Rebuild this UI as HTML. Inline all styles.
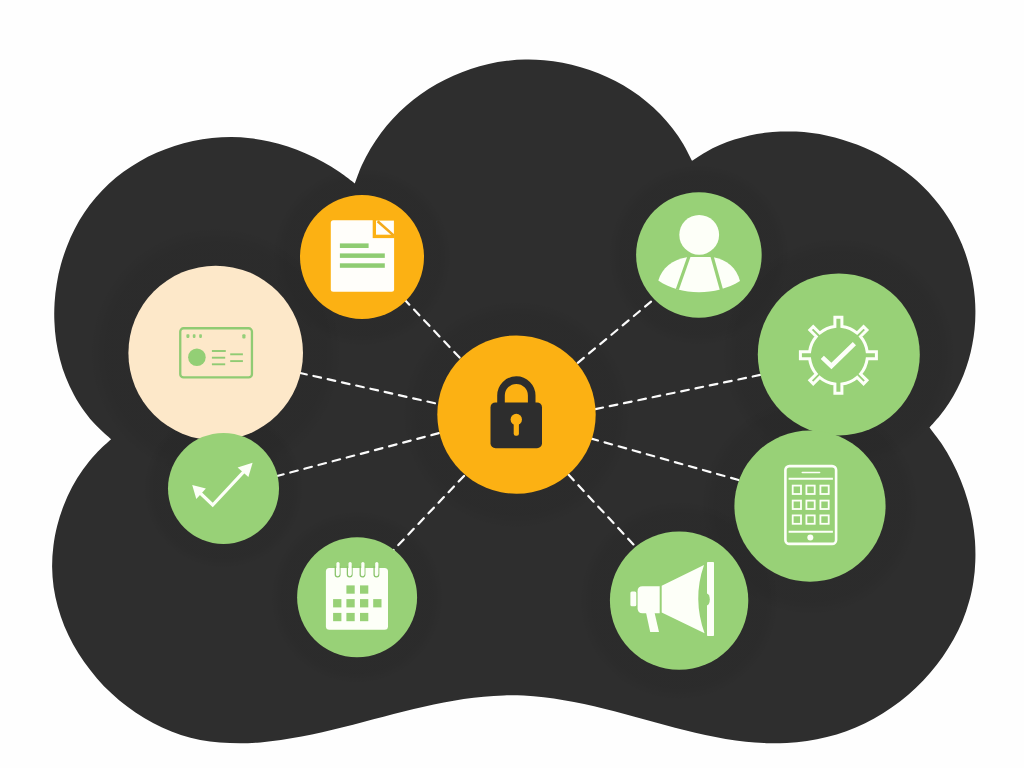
<!DOCTYPE html>
<html>
<head>
<meta charset="utf-8">
<title>Cloud security diagram</title>
<style>
html,body{margin:0;padding:0;background:#fefefe;font-family:"Liberation Sans",sans-serif;}
body{width:1024px;height:768px;overflow:hidden;position:relative;}
svg{position:absolute;left:0;top:0;display:block;}
</style>
</head>
<body>
<svg width="1024" height="768" viewBox="0 0 1024 768">
<rect width="1024" height="768" fill="#fefefe"/>
<!-- cloud -->
<g id="cloud" fill="#2e2e2e">
<path d="M111.1 439.2 C108.7 437.0 101.0 430.5 96.5 425.8 C92.0 421.1 87.8 416.1 84.1 410.9 C80.3 405.8 76.9 400.3 73.9 394.7 C70.9 389.2 68.2 383.4 65.9 377.5 C63.5 371.6 61.6 365.5 60.0 359.4 C58.3 353.3 57.1 347.0 56.1 340.7 C55.2 334.4 54.6 328.0 54.4 321.6 C54.1 315.3 54.2 308.8 54.6 302.5 C55.0 296.1 55.7 289.7 56.8 283.4 C57.8 277.0 59.2 270.8 60.9 264.6 C62.6 258.4 64.6 252.3 66.9 246.4 C69.2 240.4 71.8 234.6 74.7 229.0 C77.6 223.3 80.8 217.8 84.4 212.6 C87.9 207.3 91.7 202.3 95.8 197.5 C99.9 192.7 104.3 188.1 108.9 183.8 C113.5 179.5 118.4 175.5 123.5 171.8 C128.6 168.0 134.0 164.5 139.5 161.4 C145.0 158.2 150.7 155.3 156.5 152.7 C162.4 150.2 168.4 147.9 174.5 145.9 C180.5 144.0 186.8 142.3 193.0 141.0 C199.3 139.7 205.6 138.7 212.0 138.0 C218.3 137.4 224.8 137.1 231.2 137.1 C237.6 137.1 244.0 137.5 250.3 138.3 C256.7 139.0 263.0 140.1 269.3 141.5 C275.5 142.9 281.7 144.6 287.8 146.6 C293.9 148.6 299.9 150.9 305.8 153.5 C311.7 156.0 317.5 158.9 323.1 162.0 C328.7 165.1 334.2 168.5 339.5 172.1 C344.8 175.6 352.2 181.6 354.8 183.5 C356.0 180.5 359.1 171.3 361.7 165.5 C364.4 159.7 367.3 154.1 370.5 148.7 C373.8 143.2 377.3 138.0 381.0 133.0 C384.8 128.0 388.8 123.2 393.1 118.6 C397.3 114.1 401.8 109.7 406.5 105.6 C411.2 101.6 416.1 97.7 421.1 94.1 C426.2 90.5 431.4 87.2 436.8 84.1 C442.2 81.0 447.7 78.2 453.4 75.7 C459.0 73.1 464.8 70.9 470.7 68.9 C476.6 67.0 482.6 65.3 488.6 63.9 C494.6 62.6 500.8 61.5 506.9 60.8 C513.0 60.1 519.3 59.7 525.4 59.6 C531.6 59.5 537.9 59.7 544.1 60.3 C550.3 60.8 556.5 61.7 562.6 62.8 C568.7 64.0 574.8 65.4 580.8 67.2 C586.7 68.9 592.7 71.0 598.4 73.3 C604.2 75.6 609.9 78.3 615.4 81.1 C621.0 84.0 626.4 87.2 631.5 90.6 C636.7 94.0 641.8 97.7 646.6 101.7 C651.4 105.6 656.0 109.9 660.3 114.3 C664.6 118.8 668.8 123.5 672.6 128.4 C676.4 133.3 680.0 138.5 683.2 143.9 C686.5 149.3 690.5 158.0 692.0 160.8 C694.3 159.4 700.9 154.8 705.6 152.2 C710.2 149.5 714.9 147.2 719.8 145.1 C724.6 143.0 729.5 141.1 734.4 139.5 C739.4 137.9 744.5 136.6 749.5 135.4 C754.6 134.3 759.8 133.4 764.9 132.8 C770.1 132.1 775.3 131.7 780.5 131.5 C785.7 131.3 790.9 131.4 796.1 131.6 C801.4 131.9 806.6 132.4 811.8 133.1 C817.0 133.7 822.1 134.6 827.3 135.7 C832.4 136.8 837.5 138.2 842.5 139.7 C847.6 141.2 852.6 142.9 857.5 144.8 C862.3 146.7 867.2 148.8 871.9 151.0 C876.7 153.3 881.3 155.8 885.8 158.4 C890.4 161.1 894.8 163.9 899.1 166.9 C903.4 169.8 907.6 173.0 911.6 176.3 C915.6 179.6 919.5 183.1 923.2 186.8 C926.9 190.4 930.5 194.2 933.8 198.2 C937.2 202.1 940.4 206.2 943.4 210.5 C946.4 214.7 949.2 219.1 951.8 223.6 C954.4 228.1 956.8 232.8 958.9 237.5 C961.1 242.2 963.1 247.0 964.9 251.9 C966.6 256.8 968.2 261.8 969.5 266.9 C970.8 271.9 971.9 277.0 972.8 282.2 C973.7 287.3 974.4 292.5 974.8 297.7 C975.2 302.9 975.5 308.2 975.4 313.4 C975.4 318.6 975.1 323.8 974.6 329.0 C974.1 334.2 973.3 339.4 972.3 344.5 C971.4 349.7 970.1 354.8 968.7 359.8 C967.2 364.8 965.5 369.8 963.6 374.7 C961.6 379.5 959.5 384.3 957.1 389.0 C954.7 393.7 952.1 398.2 949.2 402.7 C946.4 407.1 943.3 411.4 940.0 415.5 C936.7 419.7 931.3 425.5 929.5 427.5 C931.5 430.3 938.0 438.3 941.8 444.1 C945.6 449.8 949.1 455.8 952.3 461.9 C955.5 468.0 958.4 474.3 960.9 480.7 C963.5 487.2 965.8 493.7 967.7 500.4 C969.6 507.0 971.2 513.7 972.4 520.5 C973.6 527.3 974.5 534.1 975.0 540.9 C975.4 547.8 975.6 554.6 975.3 561.4 C975.1 568.2 974.5 575.0 973.4 581.7 C972.4 588.4 971.0 595.1 969.1 601.6 C967.3 608.1 965.1 614.6 962.5 620.9 C959.9 627.1 956.9 633.3 953.6 639.3 C950.3 645.3 946.6 651.1 942.7 656.7 C938.8 662.3 934.5 667.8 930.0 673.0 C925.5 678.2 920.7 683.2 915.7 688.0 C910.7 692.7 905.4 697.2 900.0 701.4 C894.5 705.6 888.8 709.6 883.0 713.2 C877.2 716.9 871.2 720.2 865.1 723.2 C858.9 726.2 852.6 728.9 846.3 731.2 C839.9 733.5 833.4 735.4 826.9 737.0 C820.3 738.7 813.7 739.9 807.0 740.9 C800.3 741.9 793.5 742.5 786.8 742.9 C780.0 743.3 773.2 743.3 766.4 743.2 C759.6 743.0 752.7 742.5 745.9 741.8 C739.1 741.1 732.4 740.1 725.6 739.0 C718.8 737.9 712.1 736.5 705.3 735.1 C698.6 733.6 691.9 732.0 685.1 730.3 C678.4 728.6 671.6 726.8 664.9 725.0 C658.2 723.2 651.4 721.3 644.7 719.5 C637.9 717.7 631.2 715.8 624.5 714.0 C617.7 712.2 611.0 710.5 604.2 708.8 C597.5 707.2 590.8 705.6 584.1 704.1 C577.3 702.7 570.6 701.4 563.9 700.2 C557.2 699.1 550.5 698.1 543.8 697.3 C537.1 696.5 530.4 696.0 523.7 695.6 C517.0 695.3 510.3 695.3 503.7 695.4 C497.0 695.6 490.3 696.1 483.7 696.7 C477.0 697.3 470.4 698.1 463.7 699.1 C457.1 700.1 450.4 701.3 443.8 702.5 C437.1 703.8 430.4 705.3 423.8 706.8 C417.1 708.3 410.4 709.9 403.7 711.6 C397.0 713.2 390.3 715.0 383.5 716.7 C376.8 718.4 370.0 720.2 363.3 722.0 C356.5 723.8 349.7 725.5 342.8 727.2 C336.0 728.9 329.1 730.6 322.2 732.2 C315.4 733.7 308.5 735.2 301.6 736.5 C294.7 737.8 287.8 739.0 280.9 740.0 C274.1 741.0 267.2 741.8 260.4 742.4 C253.6 742.9 246.8 743.3 240.0 743.3 C233.3 743.3 226.6 743.1 219.9 742.6 C213.3 742.0 206.7 741.1 200.2 739.9 C193.7 738.6 187.2 736.9 180.9 734.9 C174.6 732.9 168.3 730.4 162.1 727.6 C156.0 724.8 150.0 721.6 144.2 718.1 C138.3 714.6 132.6 710.7 127.2 706.6 C121.7 702.5 116.4 698.0 111.4 693.3 C106.3 688.6 101.5 683.6 97.0 678.4 C92.5 673.2 88.2 667.8 84.2 662.1 C80.3 656.5 76.6 650.7 73.3 644.7 C70.0 638.7 67.0 632.5 64.4 626.2 C61.8 619.8 59.6 613.4 57.8 606.8 C56.0 600.3 54.6 593.6 53.6 586.9 C52.7 580.2 52.2 573.4 52.1 566.5 C52.1 559.7 52.5 552.9 53.4 546.1 C54.2 539.3 55.5 532.4 57.2 525.8 C58.9 519.1 61.0 512.4 63.5 506.0 C66.0 499.6 68.9 493.2 72.1 487.1 C75.4 481.0 79.0 475.1 83.0 469.5 C87.0 463.9 91.4 458.4 96.1 453.4 C100.7 448.3 108.6 441.6 111.1 439.2 Z"/>
</g>
<defs><radialGradient id="hg"><stop offset="0" stop-color="#000" stop-opacity="0.06"/><stop offset="0.88" stop-color="#000" stop-opacity="0.055"/><stop offset="1" stop-color="#000" stop-opacity="0"/></radialGradient><clipPath id="cc"><path d="M111.1 439.2 C108.7 437.0 101.0 430.5 96.5 425.8 C92.0 421.1 87.8 416.1 84.1 410.9 C80.3 405.8 76.9 400.3 73.9 394.7 C70.9 389.2 68.2 383.4 65.9 377.5 C63.5 371.6 61.6 365.5 60.0 359.4 C58.3 353.3 57.1 347.0 56.1 340.7 C55.2 334.4 54.6 328.0 54.4 321.6 C54.1 315.3 54.2 308.8 54.6 302.5 C55.0 296.1 55.7 289.7 56.8 283.4 C57.8 277.0 59.2 270.8 60.9 264.6 C62.6 258.4 64.6 252.3 66.9 246.4 C69.2 240.4 71.8 234.6 74.7 229.0 C77.6 223.3 80.8 217.8 84.4 212.6 C87.9 207.3 91.7 202.3 95.8 197.5 C99.9 192.7 104.3 188.1 108.9 183.8 C113.5 179.5 118.4 175.5 123.5 171.8 C128.6 168.0 134.0 164.5 139.5 161.4 C145.0 158.2 150.7 155.3 156.5 152.7 C162.4 150.2 168.4 147.9 174.5 145.9 C180.5 144.0 186.8 142.3 193.0 141.0 C199.3 139.7 205.6 138.7 212.0 138.0 C218.3 137.4 224.8 137.1 231.2 137.1 C237.6 137.1 244.0 137.5 250.3 138.3 C256.7 139.0 263.0 140.1 269.3 141.5 C275.5 142.9 281.7 144.6 287.8 146.6 C293.9 148.6 299.9 150.9 305.8 153.5 C311.7 156.0 317.5 158.9 323.1 162.0 C328.7 165.1 334.2 168.5 339.5 172.1 C344.8 175.6 352.2 181.6 354.8 183.5 C356.0 180.5 359.1 171.3 361.7 165.5 C364.4 159.7 367.3 154.1 370.5 148.7 C373.8 143.2 377.3 138.0 381.0 133.0 C384.8 128.0 388.8 123.2 393.1 118.6 C397.3 114.1 401.8 109.7 406.5 105.6 C411.2 101.6 416.1 97.7 421.1 94.1 C426.2 90.5 431.4 87.2 436.8 84.1 C442.2 81.0 447.7 78.2 453.4 75.7 C459.0 73.1 464.8 70.9 470.7 68.9 C476.6 67.0 482.6 65.3 488.6 63.9 C494.6 62.6 500.8 61.5 506.9 60.8 C513.0 60.1 519.3 59.7 525.4 59.6 C531.6 59.5 537.9 59.7 544.1 60.3 C550.3 60.8 556.5 61.7 562.6 62.8 C568.7 64.0 574.8 65.4 580.8 67.2 C586.7 68.9 592.7 71.0 598.4 73.3 C604.2 75.6 609.9 78.3 615.4 81.1 C621.0 84.0 626.4 87.2 631.5 90.6 C636.7 94.0 641.8 97.7 646.6 101.7 C651.4 105.6 656.0 109.9 660.3 114.3 C664.6 118.8 668.8 123.5 672.6 128.4 C676.4 133.3 680.0 138.5 683.2 143.9 C686.5 149.3 690.5 158.0 692.0 160.8 C694.3 159.4 700.9 154.8 705.6 152.2 C710.2 149.5 714.9 147.2 719.8 145.1 C724.6 143.0 729.5 141.1 734.4 139.5 C739.4 137.9 744.5 136.6 749.5 135.4 C754.6 134.3 759.8 133.4 764.9 132.8 C770.1 132.1 775.3 131.7 780.5 131.5 C785.7 131.3 790.9 131.4 796.1 131.6 C801.4 131.9 806.6 132.4 811.8 133.1 C817.0 133.7 822.1 134.6 827.3 135.7 C832.4 136.8 837.5 138.2 842.5 139.7 C847.6 141.2 852.6 142.9 857.5 144.8 C862.3 146.7 867.2 148.8 871.9 151.0 C876.7 153.3 881.3 155.8 885.8 158.4 C890.4 161.1 894.8 163.9 899.1 166.9 C903.4 169.8 907.6 173.0 911.6 176.3 C915.6 179.6 919.5 183.1 923.2 186.8 C926.9 190.4 930.5 194.2 933.8 198.2 C937.2 202.1 940.4 206.2 943.4 210.5 C946.4 214.7 949.2 219.1 951.8 223.6 C954.4 228.1 956.8 232.8 958.9 237.5 C961.1 242.2 963.1 247.0 964.9 251.9 C966.6 256.8 968.2 261.8 969.5 266.9 C970.8 271.9 971.9 277.0 972.8 282.2 C973.7 287.3 974.4 292.5 974.8 297.7 C975.2 302.9 975.5 308.2 975.4 313.4 C975.4 318.6 975.1 323.8 974.6 329.0 C974.1 334.2 973.3 339.4 972.3 344.5 C971.4 349.7 970.1 354.8 968.7 359.8 C967.2 364.8 965.5 369.8 963.6 374.7 C961.6 379.5 959.5 384.3 957.1 389.0 C954.7 393.7 952.1 398.2 949.2 402.7 C946.4 407.1 943.3 411.4 940.0 415.5 C936.7 419.7 931.3 425.5 929.5 427.5 C931.5 430.3 938.0 438.3 941.8 444.1 C945.6 449.8 949.1 455.8 952.3 461.9 C955.5 468.0 958.4 474.3 960.9 480.7 C963.5 487.2 965.8 493.7 967.7 500.4 C969.6 507.0 971.2 513.7 972.4 520.5 C973.6 527.3 974.5 534.1 975.0 540.9 C975.4 547.8 975.6 554.6 975.3 561.4 C975.1 568.2 974.5 575.0 973.4 581.7 C972.4 588.4 971.0 595.1 969.1 601.6 C967.3 608.1 965.1 614.6 962.5 620.9 C959.9 627.1 956.9 633.3 953.6 639.3 C950.3 645.3 946.6 651.1 942.7 656.7 C938.8 662.3 934.5 667.8 930.0 673.0 C925.5 678.2 920.7 683.2 915.7 688.0 C910.7 692.7 905.4 697.2 900.0 701.4 C894.5 705.6 888.8 709.6 883.0 713.2 C877.2 716.9 871.2 720.2 865.1 723.2 C858.9 726.2 852.6 728.9 846.3 731.2 C839.9 733.5 833.4 735.4 826.9 737.0 C820.3 738.7 813.7 739.9 807.0 740.9 C800.3 741.9 793.5 742.5 786.8 742.9 C780.0 743.3 773.2 743.3 766.4 743.2 C759.6 743.0 752.7 742.5 745.9 741.8 C739.1 741.1 732.4 740.1 725.6 739.0 C718.8 737.9 712.1 736.5 705.3 735.1 C698.6 733.6 691.9 732.0 685.1 730.3 C678.4 728.6 671.6 726.8 664.9 725.0 C658.2 723.2 651.4 721.3 644.7 719.5 C637.9 717.7 631.2 715.8 624.5 714.0 C617.7 712.2 611.0 710.5 604.2 708.8 C597.5 707.2 590.8 705.6 584.1 704.1 C577.3 702.7 570.6 701.4 563.9 700.2 C557.2 699.1 550.5 698.1 543.8 697.3 C537.1 696.5 530.4 696.0 523.7 695.6 C517.0 695.3 510.3 695.3 503.7 695.4 C497.0 695.6 490.3 696.1 483.7 696.7 C477.0 697.3 470.4 698.1 463.7 699.1 C457.1 700.1 450.4 701.3 443.8 702.5 C437.1 703.8 430.4 705.3 423.8 706.8 C417.1 708.3 410.4 709.9 403.7 711.6 C397.0 713.2 390.3 715.0 383.5 716.7 C376.8 718.4 370.0 720.2 363.3 722.0 C356.5 723.8 349.7 725.5 342.8 727.2 C336.0 728.9 329.1 730.6 322.2 732.2 C315.4 733.7 308.5 735.2 301.6 736.5 C294.7 737.8 287.8 739.0 280.9 740.0 C274.1 741.0 267.2 741.8 260.4 742.4 C253.6 742.9 246.8 743.3 240.0 743.3 C233.3 743.3 226.6 743.1 219.9 742.6 C213.3 742.0 206.7 741.1 200.2 739.9 C193.7 738.6 187.2 736.9 180.9 734.9 C174.6 732.9 168.3 730.4 162.1 727.6 C156.0 724.8 150.0 721.6 144.2 718.1 C138.3 714.6 132.6 710.7 127.2 706.6 C121.7 702.5 116.4 698.0 111.4 693.3 C106.3 688.6 101.5 683.6 97.0 678.4 C92.5 673.2 88.2 667.8 84.2 662.1 C80.3 656.5 76.6 650.7 73.3 644.7 C70.0 638.7 67.0 632.5 64.4 626.2 C61.8 619.8 59.6 613.4 57.8 606.8 C56.0 600.3 54.6 593.6 53.6 586.9 C52.7 580.2 52.2 573.4 52.1 566.5 C52.1 559.7 52.5 552.9 53.4 546.1 C54.2 539.3 55.5 532.4 57.2 525.8 C58.9 519.1 61.0 512.4 63.5 506.0 C66.0 499.6 68.9 493.2 72.1 487.1 C75.4 481.0 79.0 475.1 83.0 469.5 C87.0 463.9 91.4 458.4 96.1 453.4 C100.7 448.3 108.6 441.6 111.1 439.2 Z"/></clipPath></defs>
<g id="halos" clip-path="url(#cc)" fill="url(#hg)">
<circle cx="362.0" cy="257.0" r="89.9"/>
<circle cx="215.7" cy="353.0" r="126.6"/>
<circle cx="223.5" cy="488.4" r="80.5"/>
<circle cx="357.1" cy="597.2" r="87.0"/>
<circle cx="516.5" cy="414.6" r="114.8"/>
<circle cx="698.9" cy="255.0" r="91.1"/>
<circle cx="838.8" cy="354.4" r="117.5"/>
<circle cx="810.0" cy="506.1" r="109.6"/>
<circle cx="679.1" cy="600.6" r="100.3"/>
</g>
<!-- dashed lines -->
<g id="lines" stroke="#fbfbfb" stroke-width="2.2" stroke-dasharray="7.8 6.8" stroke-linecap="round" fill="none">
<line x1="459.6" y1="357.6" x2="403.6" y2="298.6"/>
<line x1="435.0" y1="403.2" x2="298.3" y2="372.6"/>
<line x1="438.9" y1="433.1" x2="274.9" y2="476.6"/>
<line x1="464.0" y1="475.9" x2="392.9" y2="550.8"/>
<line x1="577.8" y1="362.8" x2="655.8" y2="297.7"/>
<line x1="595.4" y1="409.1" x2="762.4" y2="374.5"/>
<line x1="590.5" y1="438.4" x2="738.9" y2="480.1"/>
<line x1="568.4" y1="474.6" x2="636.8" y2="548.0"/>
</g>
<!-- circles -->
<circle cx="362" cy="257" r="62" fill="#fcb113"/>
<circle cx="215.7" cy="353" r="87.3" fill="#fde8c9"/>
<circle cx="223.5" cy="488.4" r="55.5" fill="#98d177"/>
<circle cx="357.1" cy="597.2" r="60" fill="#98d177"/>
<circle cx="516.5" cy="414.6" r="79.2" fill="#fcb113"/>
<circle cx="698.9" cy="255" r="62.8" fill="#98d177"/>
<circle cx="838.8" cy="354.4" r="81" fill="#98d177"/>
<circle cx="810" cy="506.1" r="75.6" fill="#98d177"/>
<circle cx="679.1" cy="600.6" r="69.2" fill="#98d177"/>

<!-- document icon -->
<g id="doc">
<rect x="330.8" y="220.3" width="63.3" height="71.5" rx="2.5" fill="#fffefa"/>
<rect x="372.7" y="219.5" width="22" height="18.6" fill="#fcb113"/>
<rect x="376" y="220.6" width="17.9" height="14.1" fill="#fffefa"/>
<line x1="377.6" y1="221.2" x2="393.6" y2="235.4" stroke="#f4a91a" stroke-width="2.6"/>
<rect x="339.9" y="243.4" width="28.7" height="4.6" fill="#8fcc72"/>
<rect x="339.9" y="253.4" width="44.9" height="4.5" fill="#8fcc72"/>
<rect x="339.9" y="263.3" width="44.9" height="4.5" fill="#8fcc72"/>
</g>
<!-- id card icon -->
<g id="idcard" fill="none" stroke="#90cb73">
<rect x="180.25" y="328.25" width="71.7" height="49.2" rx="3.3" stroke-width="2.3"/>
<circle cx="196.9" cy="357.2" r="8.8" fill="#93cf75" stroke="none"/>
<g stroke-width="1.9">
<line x1="211.9" y1="351" x2="225.8" y2="351"/>
<line x1="211.9" y1="357.7" x2="225.2" y2="357.7"/>
<line x1="211.9" y1="364.3" x2="225.2" y2="364.3"/>
<line x1="230.2" y1="354.3" x2="242.9" y2="354.3"/>
<line x1="230.2" y1="361.1" x2="242.9" y2="361.1"/>
</g>
<g stroke="none" fill="#95cf79">
<rect x="186.4" y="334.2" width="3" height="3.7" rx="0.8"/>
<rect x="192.8" y="334.2" width="2.7" height="3.7" rx="0.8"/>
<rect x="199.2" y="334.2" width="2.7" height="3.7" rx="0.8"/>
<rect x="242.3" y="334.2" width="3.2" height="4.2" rx="1"/>
</g>
</g>
<!-- arrow check icon -->
<g id="arrowcheck" fill="#fdfff8" stroke="#fdfff8">
<polyline points="196.5,489.5 212.7,505 248.5,466.7" fill="none" stroke-width="3.2" stroke-linejoin="miter"/>
<polygon points="192.2,484.9 205.9,488.4 196.3,499.1" stroke="none"/>
<polygon points="252.6,462.8 248.4,477 237.6,467.4" stroke="none"/>
</g>
<!-- calendar icon -->
<g id="calendar">
<rect x="325.9" y="567.9" width="62.1" height="61.9" rx="3.5" fill="#fdfff8"/>
<rect x="346.4" y="585.4" width="8.3" height="8.3" fill="#98d177"/>
<rect x="360.0" y="585.4" width="8.3" height="8.3" fill="#98d177"/>
<rect x="333.1" y="599.1" width="8.3" height="8.3" fill="#98d177"/>
<rect x="346.4" y="599.1" width="8.3" height="8.3" fill="#98d177"/>
<rect x="360.0" y="599.1" width="8.3" height="8.3" fill="#98d177"/>
<rect x="373.2" y="599.1" width="8.3" height="8.3" fill="#98d177"/>
<rect x="333.1" y="612.9" width="8.3" height="8.3" fill="#98d177"/>
<rect x="346.4" y="612.9" width="8.3" height="8.3" fill="#98d177"/>
<rect x="360.0" y="612.9" width="8.3" height="8.3" fill="#98d177"/>
<path d="M335.3 566 V574.6 A2.3 2.3 0 0 0 339.9 574.6 V566" fill="none" stroke="#8ac46c" stroke-width="1.3"/>
<rect x="336.4" y="562" width="3.2" height="13.6" rx="1.6" fill="#fdfff8"/>
<path d="M347.4 566 V574.6 A2.3 2.3 0 0 0 352.0 574.6 V566" fill="none" stroke="#8ac46c" stroke-width="1.3"/>
<rect x="348.5" y="562" width="3.2" height="13.6" rx="1.6" fill="#fdfff8"/>
<path d="M360.2 566 V574.6 A2.3 2.3 0 0 0 364.8 574.6 V566" fill="none" stroke="#8ac46c" stroke-width="1.3"/>
<rect x="361.3" y="562" width="3.2" height="13.6" rx="1.6" fill="#fdfff8"/>
<path d="M374.1 566 V574.6 A2.3 2.3 0 0 0 378.7 574.6 V566" fill="none" stroke="#8ac46c" stroke-width="1.3"/>
<rect x="375.2" y="562" width="3.2" height="13.6" rx="1.6" fill="#fdfff8"/>
</g>
<!-- lock icon -->
<g id="lock">
<path d="M501 404 V395.5 A15.3 15.3 0 0 1 531.7 395.5 V404" fill="none" stroke="#2d2d2d" stroke-width="7.6"/>
<rect x="490.5" y="402.4" width="51.5" height="45.8" rx="5" fill="#2d2d2d"/>
<circle cx="516.3" cy="419.5" r="5.7" fill="#fcb113"/>
<rect x="513.7" y="421" width="5.2" height="14.8" rx="2" fill="#fcb113"/>
</g>
<!-- user icon -->
<g id="user">
<circle cx="699.2" cy="234.8" r="19.9" fill="#fdfff8"/>
<path d="M658.3 280.5 C662 268 672 259.500 688 257 L712.500 257 C727 259.500 736.500 268 740 281 C728 288.500 713 292.200 699 292.200 C684 292.200 669 288 658.300 280.500 Z" fill="#fdfff8"/>
<line x1="689.3" y1="255.500" x2="677.300" y2="289.500" stroke="#98d177" stroke-width="3.2"/>
<line x1="711.8" y1="255.500" x2="721.500" y2="290" stroke="#98d177" stroke-width="3.2"/>
</g>
<!-- gear icon -->
<g id="gear">
<path d="M834.90 326.41 L834.90 317.20 L841.90 317.20 L841.90 326.41 A29.00 29.00 0 0 1 857.14 333.07 L863.57 326.63 L866.97 330.03 L860.53 336.46 A29.00 29.00 0 0 1 867.19 351.70 L876.40 351.70 L876.40 358.70 L867.19 358.70 A29.00 29.00 0 0 1 860.53 373.94 L866.97 380.37 L863.57 383.77 L857.14 377.33 A29.00 29.00 0 0 1 841.90 383.99 L841.90 393.20 L834.90 393.20 L834.90 383.99 A29.00 29.00 0 0 1 819.66 377.33 L813.23 383.77 L809.83 380.37 L816.27 373.94 A29.00 29.00 0 0 1 809.61 358.70 L800.40 358.70 L800.40 351.70 L809.61 351.70 A29.00 29.00 0 0 1 816.27 336.46 L809.83 330.03 L813.23 326.63 L819.66 333.07 A29.00 29.00 0 0 1 834.90 326.41 Z" fill="none" stroke="#fdfff8" stroke-width="3" stroke-linejoin="miter"/>
<polyline points="822.3,357.4 831.4,366 854.4,343.6" fill="none" stroke="#fdfff8" stroke-width="4.6" stroke-linejoin="miter"/>
</g>
<!-- phone icon -->
<g id="phone" fill="none" stroke="#fdfff8">
<rect x="785.4" y="466.1" width="50.7" height="77.8" rx="4" stroke-width="2.6"/>
<line x1="802.3" y1="472.5" x2="819.6" y2="472.5" stroke-width="1.6" stroke-linecap="round"/>
<line x1="788.6" y1="478.7" x2="832.9" y2="478.7" stroke-width="1.9"/>
<line x1="788.6" y1="531.8" x2="832.9" y2="531.8" stroke-width="1.9"/>
<circle cx="810.3" cy="537.4" r="3" fill="#fdfff8" stroke="none"/>
<rect x="792.7" y="485.6" width="8.3" height="8.4" stroke-width="1.8"/>
<rect x="792.7" y="500.6" width="8.3" height="8.4" stroke-width="1.8"/>
<rect x="792.7" y="515.4" width="8.3" height="8.4" stroke-width="1.8"/>
<rect x="806.4" y="485.6" width="8.3" height="8.4" stroke-width="1.8"/>
<rect x="806.4" y="500.6" width="8.3" height="8.4" stroke-width="1.8"/>
<rect x="806.4" y="515.4" width="8.3" height="8.4" stroke-width="1.8"/>
<rect x="820.4" y="485.6" width="8.3" height="8.4" stroke-width="1.8"/>
<rect x="820.4" y="500.6" width="8.3" height="8.4" stroke-width="1.8"/>
<rect x="820.4" y="515.4" width="8.3" height="8.4" stroke-width="1.8"/>
</g>
<!-- megaphone icon -->
<g id="megaphone" fill="#fdfff8">
<rect x="630.4" y="591.4" width="5.9" height="14.9" rx="1.5"/>
<path d="M642.5 586.2 H659.7 V613.2 H642.5 Q637.6 613.2 637.6 608.2 V591.2 Q637.6 586.2 642.5 586.2 Z"/>
<polygon points="646,612.5 654.5,612.5 659,632 650.2,632"/>
<path d="M661.7 585.8 L704 565 Q692.2 599 704.6 633.3 L661.7 612.5 Z"/>
<rect x="707" y="562" width="7" height="74" rx="0.8"/>
<ellipse cx="706.8" cy="599.5" rx="3" ry="6" fill="#98d177"/>
</g>
</svg>
</body>
</html>
